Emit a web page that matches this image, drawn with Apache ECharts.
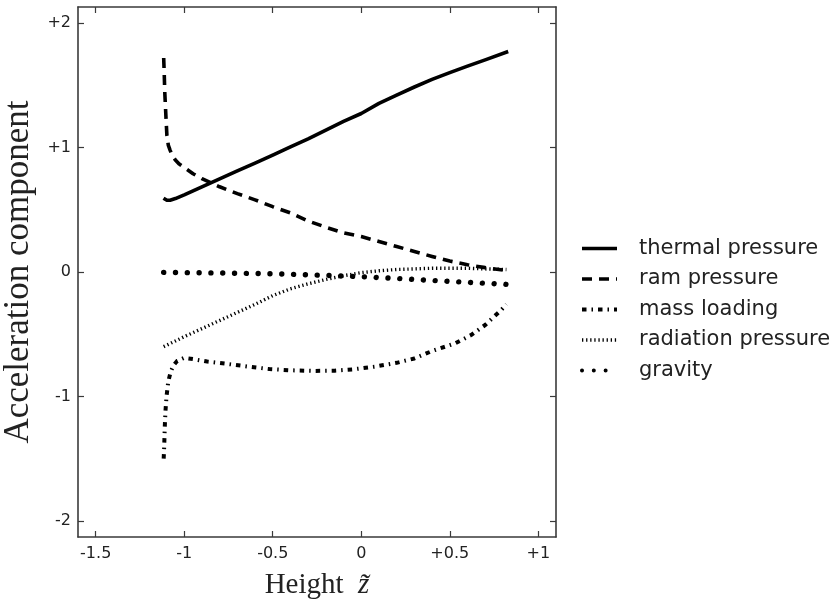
<!DOCTYPE html>
<html>
<head>
<meta charset="utf-8">
<script src="https://cdn.jsdelivr.net/npm/echarts@6/dist/echarts.min.js"></script>
<style>
html,body{margin:0;padding:0;background:#fff;}
#chart{width:839px;height:602px;}
</style>
</head>
<body>
<div id="chart"></div>
<script>
// ---- data ----
const seriesNames = ['thermal pressure', 'ram pressure', 'mass loading', 'radiation pressure', 'gravity'];

const thermalX = [-1.117, -1.1, -1.08, -1.05, -1.0, -0.9, -0.8, -0.7, -0.6, -0.5, -0.4, -0.3, -0.2, -0.1, 0.0, 0.01, 0.1, 0.2, 0.3, 0.4, 0.5, 0.6, 0.7, 0.83];
const thermalY = [0.593, 0.578, 0.577, 0.59, 0.62, 0.685, 0.748, 0.812, 0.875, 0.94, 1.005, 1.07, 1.14, 1.21, 1.274, 1.286, 1.355, 1.422, 1.487, 1.548, 1.603, 1.655, 1.705, 1.772];

const ramX = [-1.116, -1.113, -1.11, -1.107, -1.103, -1.098, -1.09, -1.08, -1.07, -1.05, -1.03, -1.0, -0.95, -0.9, -0.8, -0.7, -0.6, -0.5, -0.4, -0.3, -0.2, -0.1, 0.0, 0.1, 0.2, 0.3, 0.4, 0.5, 0.6, 0.7, 0.82];
const ramY = [1.72, 1.6, 1.45, 1.36, 1.24, 1.10, 1.02, 0.98, 0.945, 0.90, 0.87, 0.84, 0.79, 0.75, 0.685, 0.63, 0.58, 0.525, 0.475, 0.41, 0.36, 0.315, 0.285, 0.245, 0.205, 0.165, 0.125, 0.088, 0.058, 0.035, 0.012];

const massX = [-1.116, -1.113, -1.11, -1.106, -1.1, -1.09, -1.076, -1.06, -1.04, -1.0, -0.95, -0.87, -0.75, -0.64, -0.52, -0.4, -0.27, -0.15, -0.05, 0.075, 0.2, 0.3, 0.4, 0.53, 0.62, 0.7, 0.79, 0.82];
const massY = [-1.50, -1.40, -1.25, -1.12, -1.0, -0.88, -0.80, -0.75, -0.715, -0.69, -0.70, -0.72, -0.74, -0.76, -0.78, -0.79, -0.795, -0.793, -0.783, -0.761, -0.73, -0.695, -0.635, -0.574, -0.507, -0.426, -0.306, -0.26];

const radX = [-1.116, -1.0, -0.9, -0.8, -0.7, -0.6, -0.5, -0.4, -0.3, -0.2, -0.1, 0.0, 0.1, 0.2, 0.3, 0.4, 0.5, 0.6, 0.7, 0.82];
const radY = [-0.60, -0.52, -0.455, -0.39, -0.325, -0.26, -0.19, -0.135, -0.095, -0.06, -0.03, -0.005, 0.01, 0.02, 0.025, 0.03, 0.03, 0.03, 0.025, 0.02];

const gravX = [-1.116, -1.0, -0.8, -0.6, -0.4, -0.2, 0.0, 0.2, 0.4, 0.6, 0.83];
const gravY = [-0.003, -0.005, -0.008, -0.012, -0.018, -0.027, -0.038, -0.052, -0.068, -0.083, -0.1];

const xTicks = [-1.5, -1, -0.5, 0, 0.5, 1];
const yTicks = [-2, -1, 0, 1, 2];

// ---- helpers ----
function pairs(xs, ys) { return xs.map((x, i) => [x, ys[i]]); }
function fmt(v) {
  const r = Math.round(v * 1000) / 1000;
  if (Math.abs(r) < 1e-9) return '0';
  return r > 0 ? '+' + r : String(r);
}

const frameColor = '#3a3a3a';
const textColor = '#222';
const axisLine = { show: true, onZero: false, lineStyle: { color: frameColor, width: 1.6 } };
function ticks(vals) { return { show: true, inside: true, length: 6, customValues: vals, lineStyle: { color: frameColor, width: 1.2 } }; }

const styles = [
  { width: 3.6, type: 'solid', cap: 'butt' },
  { width: 3.6, type: [10, 7], cap: 'butt' },
  { width: 4.0, type: [4.5, 5, 1.5, 5], cap: 'butt' },
  { width: 3.4, type: [1.3, 2.8], cap: 'butt' },
  { width: 5.4, type: [0.01, 11.8], cap: 'round' }
];
const datas = [pairs(thermalX, thermalY), pairs(ramX, ramY), pairs(massX, massY), pairs(radX, radY), pairs(gravX, gravY)];

const hidden = 'rgba(0,0,0,0)';
const chart = echarts.init(document.getElementById('chart'), null, { renderer: 'canvas' });
chart.setOption({
  animation: false,
  backgroundColor: '#fff',
  grid: { left: 78, right: 283, top: 7, bottom: 65, containLabel: false, outerBoundsMode: 'none' },
  legend: {
    orient: 'vertical',
    left: 580,
    top: 238,
    padding: 0,
    itemWidth: 35,
    itemHeight: 14,
    itemGap: 9.5,
    textStyle: { fontFamily: 'DejaVu Sans', fontSize: 21, color: textColor, lineHeight: 21, padding: [0, 0, 0, 17] },
    data: seriesNames.map((n, i) => ({
      name: n,
      lineStyle: { width: Math.min(styles[i].width, 4), type: styles[i].type, cap: styles[i].cap, color: '#000' },
      itemStyle: { color: hidden, borderColor: hidden, borderWidth: 0, opacity: 0 }
    }))
  },
  xAxis: [
    {
      type: 'value', position: 'bottom', min: -1.6, max: 1.1,
      axisLine, axisTick: ticks(xTicks),
      splitLine: { show: false },
      axisLabel: { customValues: xTicks, formatter: fmt, fontFamily: 'DejaVu Sans', fontSize: 16, color: textColor, margin: 9 },
      name: 'Height  {i|z̃}', nameLocation: 'middle', nameGap: 34,
      nameTextStyle: { fontFamily: 'Liberation Serif', fontSize: 29, color: textColor,
        rich: { i: { fontFamily: 'Liberation Serif', fontStyle: 'italic', fontSize: 29, color: textColor } } }
    },
    {
      type: 'value', position: 'top', min: -1.6, max: 1.1,
      axisLine, axisTick: ticks(xTicks), splitLine: { show: false }, axisLabel: { show: false }
    }
  ],
  yAxis: [
    {
      type: 'value', position: 'left', min: -2.13, max: 2.13,
      axisLine, axisTick: ticks(yTicks), splitLine: { show: false },
      axisLabel: { customValues: yTicks, formatter: fmt, fontFamily: 'DejaVu Sans', fontSize: 16, color: textColor, margin: 7 },
      name: 'Acceleration component', nameLocation: 'middle', nameGap: 38,
      nameTextStyle: { fontFamily: 'Liberation Serif', fontSize: 35, color: textColor }
    },
    {
      type: 'value', position: 'right', min: -2.13, max: 2.13,
      axisLine, axisTick: ticks(yTicks), splitLine: { show: false }, axisLabel: { show: false }
    }
  ],
  series: seriesNames.map((n, i) => ({
    name: n,
    type: 'line',
    xAxisIndex: 0,
    yAxisIndex: 0,
    data: datas[i],
    showSymbol: false,
    symbol: 'none',
    smooth: false,
    clip: true,
    lineStyle: { color: '#000', width: styles[i].width, type: styles[i].type, cap: styles[i].cap, join: 'round' },
    itemStyle: { color: '#000' },
    emphasis: { disabled: true }
  }))
});
</script>
</body>
</html>
